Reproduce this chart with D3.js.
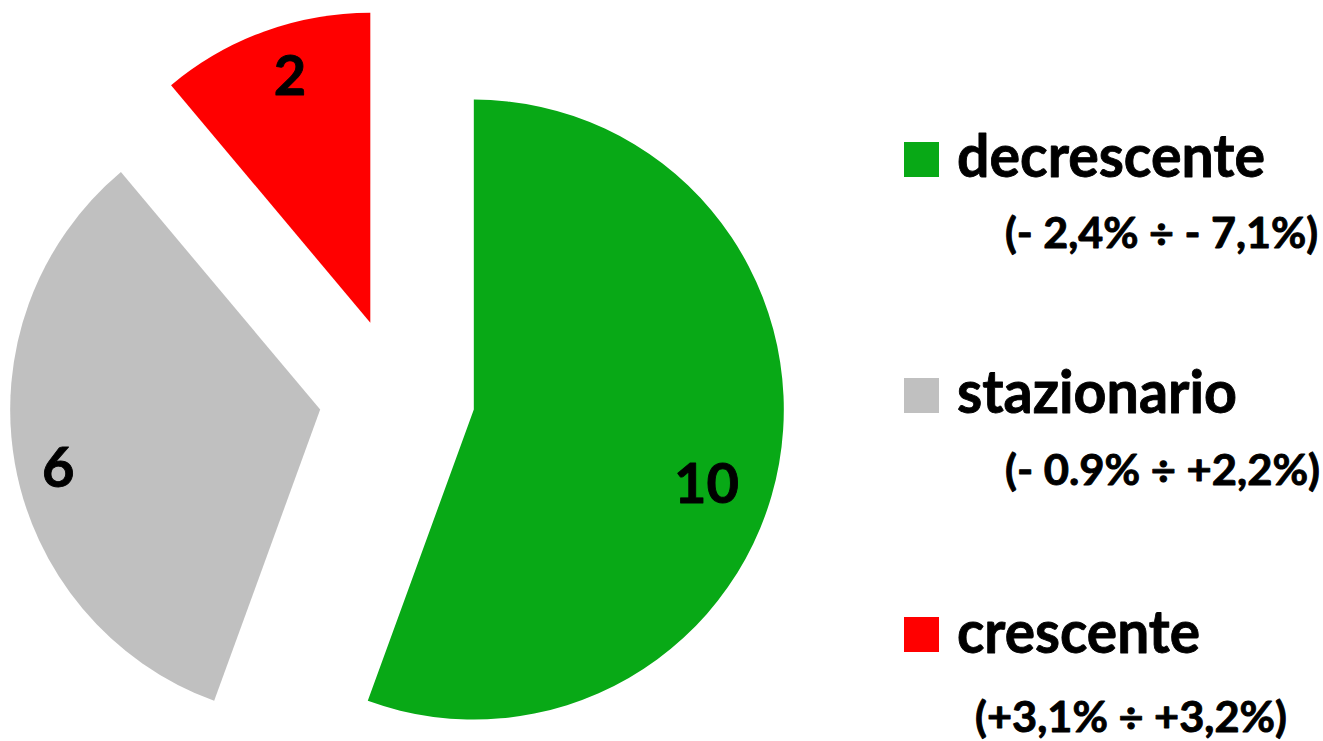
<!DOCTYPE html>
<html>
<head>
<meta charset="utf-8">
<script src="https://cdn.jsdelivr.net/npm/d3@7"></script>
<style>
  html, body { margin: 0; padding: 0; background: #fff; }
  svg { display: block; }
  text { font-family: Lato, "Open Sans", sans-serif; font-weight: 700; fill: #000;
         stroke: #000; stroke-width: 0.9px; stroke-linejoin: round; }
</style>
</head>
<body>
<svg id="chart" width="1323" height="741"></svg>
<script>
// Data
const categories = ["decrescente", "stazionario", "crescente"];
const ranges = ["(- 2,4% \u00F7 - 7,1%)", "(- 0.9% \u00F7 +2,2%)", "(+3,1% \u00F7 +3,2%)"];
const counts = [10, 6, 2];
const colors = ["#08A916", "#C0C0C0", "#FF0000"];

// Layout
const W = 1323, H = 741;
const center = [397, 396];
const radius = 310;
const explode = 78;
// label placement relative to each slice's apex: angle (deg, clockwise from 12 o'clock) and distance
const labelPolar = [[107.6, 244], [257.7, 268], [342, 260]];
const legendRows = [
  { sq: [904, 142], textX: 957, base: 177, w: 308, subX: 1005, subBase: 248, subW: 313 },
  { sq: [904, 378], textX: 957, base: 413, w: 280, subX: 1005, subBase: 485, subW: 315 },
  { sq: [904, 617], textX: 957, base: 653, w: 243, subX: 975,  subBase: 732, subW: 312 }
];

const svg = d3.select("#chart");

const pie = d3.pie().sort(null).value(d => d)
  .startAngle(0).endAngle(2 * Math.PI);
const arcs = pie(counts);
const arc = d3.arc().innerRadius(0).outerRadius(radius);

const g = svg.append("g").attr("transform", `translate(${center[0]},${center[1]})`);

const slices = g.selectAll("g.slice").data(arcs).enter().append("g")
  .attr("class", "slice")
  .attr("transform", d => {
    const a = (d.startAngle + d.endAngle) / 2;
    return `translate(${explode * Math.sin(a)},${-explode * Math.cos(a)})`;
  });

slices.append("path")
  .attr("d", arc)
  .attr("fill", (d, i) => colors[i]);

slices.append("text")
  .attr("text-anchor", "middle")
  .attr("font-size", 56)
  .attr("x", (d, i) => labelPolar[i][1] * Math.sin(labelPolar[i][0] * Math.PI / 180))
  .attr("y", (d, i) => -labelPolar[i][1] * Math.cos(labelPolar[i][0] * Math.PI / 180) + 20)
  .text(d => d.value);

// Legend
const leg = svg.append("g");
categories.forEach((c, i) => {
  const r = legendRows[i];
  leg.append("rect")
    .attr("x", r.sq[0]).attr("y", r.sq[1])
    .attr("width", 35).attr("height", 35)
    .attr("fill", colors[i]);
  leg.append("text")
    .attr("x", r.textX).attr("y", r.base)
    .attr("font-size", 60)
    .attr("textLength", r.w).attr("lengthAdjust", "spacingAndGlyphs")
    .text(c);
  leg.append("text")
    .attr("x", r.subX).attr("y", r.subBase)
    .attr("font-size", 42)
    .attr("textLength", r.subW).attr("lengthAdjust", "spacingAndGlyphs")
    .text(ranges[i]);
});
</script>
</body>
</html>
